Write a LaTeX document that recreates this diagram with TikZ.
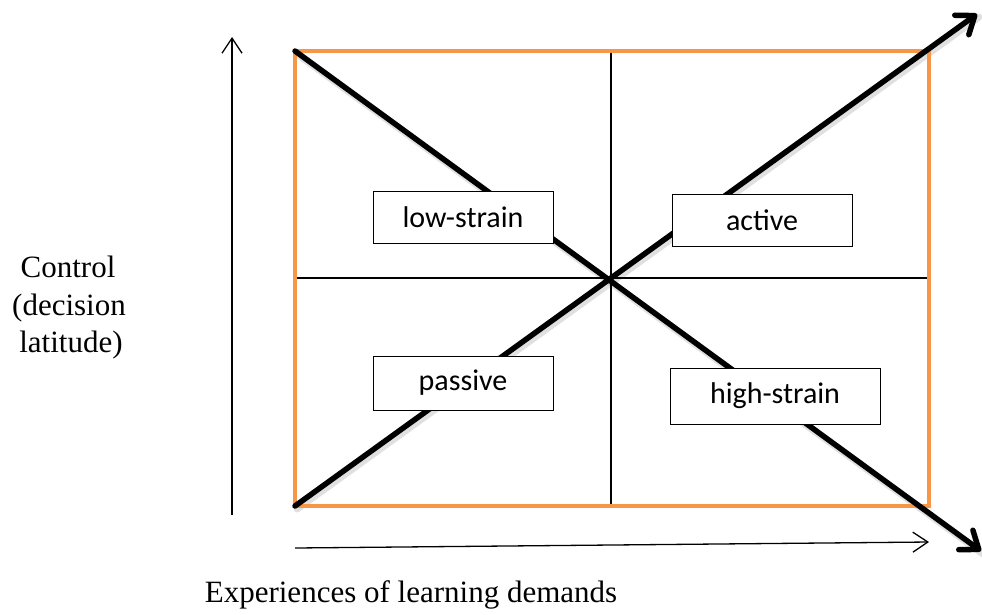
\documentclass[tikz,border=0pt]{standalone}
\usepackage{fontspec}
\setmainfont{Liberation Serif}
\newfontfamily\labelfont{Carlito}
\usetikzlibrary{arrows.meta}
\definecolor{frameorange}{HTML}{F79646}
\tikzset{
  thinline/.style={line width=1.3pt, black},
  thickarrow/.style={line width=5.5pt, black, line cap=round, -{Straight Barb[length=16pt,width=24pt,round]}},
  shadowline/.style={line width=7pt, black, opacity=0.12, line cap=round},
  axisarrow/.style={line width=1.3pt, black, -{Straight Barb[length=15pt,width=20pt]}},
  quadbox/.style={draw=black, line width=1pt, fill=white, inner sep=0pt, font=\labelfont\fontsize{30}{34}\selectfont},
  axistext/.style={font=\fontsize{31}{37}\selectfont, inner sep=0pt, anchor=base}
}
\begin{document}
\begin{tikzpicture}[x=1pt,y=-1pt]
\useasboundingbox (0,0) rectangle (982,614);
% frame corners
\coordinate (tl) at (295,51);
\coordinate (tr) at (929,51);
\coordinate (bl) at (295,506);
\coordinate (br) at (929,506);
\coordinate (topmid) at (611,51);
\coordinate (botmid) at (611,506);
\coordinate (leftmid) at (295,278);
\coordinate (rightmid) at (929,278);
\coordinate (upend) at (977,14);
\coordinate (downend) at (981,551);
% dividers
\draw[thinline] (topmid) -- (botmid);
\draw[thinline] (leftmid) -- (rightmid);
% shadows
\draw[shadowline] ([shift={(2,3)}]bl) -- ([shift={(2,3)}]upend);
\draw[shadowline] ([shift={(2,3)}]tl) -- ([shift={(2,3)}]downend);
% frame
\draw[frameorange, line width=4pt] (tl) rectangle (br);
% diagonals
\draw[thickarrow] (bl) -- (upend);
\draw[thickarrow] (tl) -- (downend);
% boxes
\node[quadbox, minimum width=180pt, minimum height=52pt] (low) at (463,217) {low-strain};
\node[quadbox, minimum width=180pt, minimum height=52pt] (active) at (762,220) {active};
\node[quadbox, minimum width=180pt, minimum height=54pt] (passive) at (463,383) {passive};
\node[quadbox, minimum width=210pt, minimum height=56pt] (high) at (775,396) {high-strain};
% axes
\coordinate (vbot) at (232,515);
\coordinate (vtop) at (232,37);
\draw[axisarrow] (vbot) -- (vtop);
\coordinate (hleft) at (295,548);
\coordinate (hright) at (929,542);
\draw[axisarrow] (hleft) -- (hright);
% axis labels
\node[axistext] (ctrlA) at (68,277) {Control};
\node[axistext] (ctrlB) at (69,315) {(decision};
\node[axistext] (ctrlC) at (71,352) {latitude)};
\node[axistext] (xlabel) at (411,602) {Experiences of learning demands};
\end{tikzpicture}
\end{document}
